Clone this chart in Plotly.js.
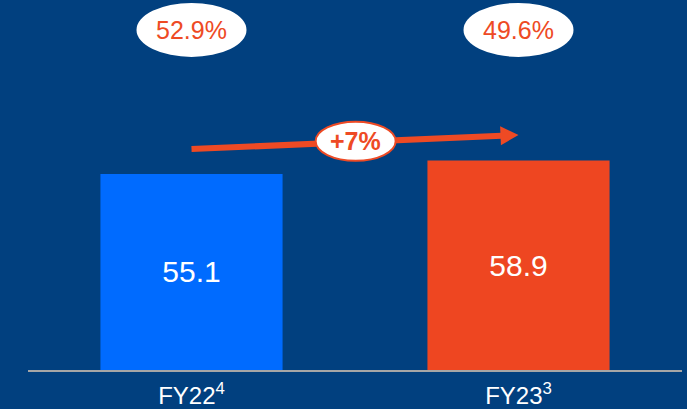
<!DOCTYPE html>
<html>
<head>
<meta charset="utf-8">
<script src="https://cdn.plot.ly/plotly-3.0.1.min.js"></script>
<style>
html,body{margin:0;padding:0;background:#01407f;}
#chart{width:687px;height:409px;}
</style>
</head>
<body>
<div id="chart"></div>
<script>
var categories = ['FY22', 'FY23'];
var footnotes = ['4', '3'];
var values = [55.1, 58.9];
var marginPct = [52.9, 49.6];
var barColors = ['#006bff', '#ee4621'];

var ORANGE = '#ee4a24';
var BG = '#01407f';
var FONT = 'Liberation Sans, Arial, sans-serif';

var tickText = categories.map(function(c, i){ return c + '<sup>' + footnotes[i] + '</sup>'; });
var growth = Math.round((values[1] / values[0] - 1) * 100);
var growthLabel = (growth >= 0 ? '+' : '') + growth + '%';

var trace = {
  type: 'bar',
  x: categories,
  y: values,
  width: 0.557,
  marker: {color: barColors, line: {width: 0}},
  text: values.map(function(v){ return v.toFixed(1); }),
  textposition: 'inside',
  insidetextanchor: 'middle',
  textangle: 0,
  textfont: {color: '#ffffff', size: 30, family: FONT},
  hoverinfo: 'none'
};

var pillY = 95.6;
var shapes = [];
var annotations = [];

// growth arrow (decoration)
var aStart = {x: 0.0, y: 62.1};
var aMid = {x: 0.502, y: 64.3};
var aEnd = {x: 0.997, y: 66.05};
// line stops at the base of the arrowhead (about 16 px before the tip)
var backX = 16 / 327;
var lineEnd = {x: aEnd.x - backX, y: aEnd.y - (aEnd.y - aStart.y) * backX / (aEnd.x - aStart.x)};
shapes.push({
  type: 'line', xref: 'x', yref: 'y',
  x0: aStart.x, y0: aStart.y, x1: lineEnd.x, y1: lineEnd.y,
  line: {color: ORANGE, width: 6}
});
shapes.push({
  type: 'path', xref: 'x', yref: 'y',
  xsizemode: 'pixel', ysizemode: 'pixel',
  xanchor: aEnd.x, yanchor: aEnd.y,
  path: 'M1,0 L-17.4,8.8 L-16.6,-10.2 Z',
  fillcolor: ORANGE, line: {width: 0}
});
shapes.push({
  type: 'circle', xref: 'x', yref: 'y',
  xsizemode: 'pixel', ysizemode: 'pixel',
  xanchor: aMid.x, yanchor: aMid.y,
  x0: -40, x1: 40, y0: -19.5, y1: 19.5,
  fillcolor: '#ffffff', line: {color: ORANGE, width: 2}
});
annotations.push({
  x: aMid.x, y: aMid.y, xref: 'x', yref: 'y',
  text: '<b>' + growthLabel + '</b>', showarrow: false,
  font: {color: ORANGE, size: 25, family: FONT}
});

categories.forEach(function(c, i){
  shapes.push({
    type: 'circle', xref: 'x', yref: 'y',
    xsizemode: 'pixel', ysizemode: 'pixel',
    xanchor: i, yanchor: pillY,
    x0: -55, x1: 55, y0: -27, y1: 27,
    fillcolor: '#ffffff', line: {width: 0}
  });
  annotations.push({
    x: i, y: pillY, xref: 'x', yref: 'y',
    text: marginPct[i].toFixed(1) + '%',
    showarrow: false,
    font: {color: ORANGE, size: 25, family: FONT}
  });
});

var layout = {
  width: 687, height: 409,
  margin: {l: 28, r: 5, t: 0, b: 39, pad: 0},
  paper_bgcolor: BG, plot_bgcolor: BG,
  showlegend: false,
  font: {family: FONT, color: '#ffffff'},
  xaxis: {
    type: 'category', range: [-0.5, 1.5],
    tickvals: categories, ticktext: tickText,
    showline: true, linecolor: '#a6a6a6', linewidth: 2,
    ticks: '', showgrid: false, zeroline: false,
    ticklabelstandoff: 3,
    tickfont: {color: '#ffffff', size: 24, family: FONT},
    fixedrange: true
  },
  yaxis: {visible: false, range: [0, 104], fixedrange: true, showgrid: false, zeroline: false},
  shapes: shapes,
  annotations: annotations,
  hovermode: false
};

Plotly.newPlot('chart', [trace], layout, {staticPlot: true, displayModeBar: false});
</script>
</body>
</html>
